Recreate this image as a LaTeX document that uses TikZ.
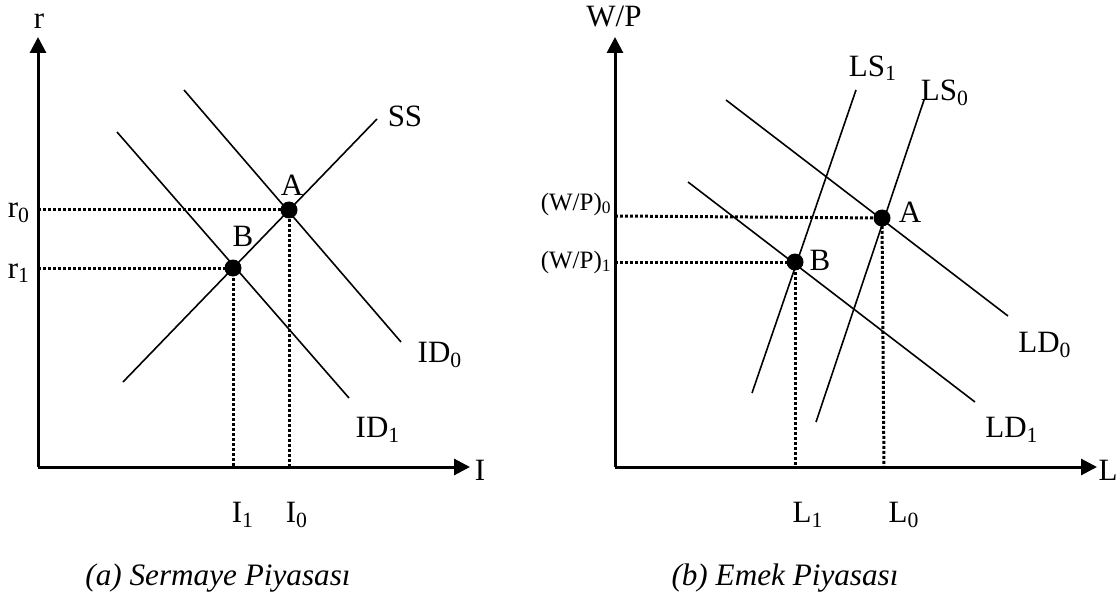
\documentclass[tikz,border=0pt]{standalone}
\usepackage{fontspec}
\setmainfont{Liberation Serif}
\usetikzlibrary{arrows.meta}
\tikzset{
    axisline/.style={line width=1.5pt, -{Triangle[length=8pt,width=8pt]}},
    curveline/.style={line width=0.8pt},
    guideline/.style={line width=1.5pt, dash pattern=on 1.4pt off 1.1pt},
    eqdot/.style={circle, fill=black, inner sep=0pt, minimum size=8.5pt},
    lbl/.style={inner sep=0pt, font=\fontsize{15.5}{18}\selectfont},
    smalllbl/.style={inner sep=0pt, font=\fontsize{12.5}{15}\selectfont},
    captionlbl/.style={inner sep=0pt, font=\fontsize{15.6}{19}\selectfont\itshape}
}
\begin{document}
\begin{tikzpicture}[x=0.5pt, y=-0.5pt]
    \useasboundingbox (0,0) rectangle (1120,599);
    % (a) sermaye piyasasi
    \coordinate (Oa) at (38,467);
    \draw[axisline] (Oa) -- (38,37);
    \draw[axisline] (Oa) -- (470,467);
    \draw[curveline] (123,382) -- (377,119);
    \draw[curveline] (184,90) -- (401,342);
    \draw[curveline] (117,132) -- (349,398);
    \node[eqdot] (Aa) at (289,210) {};
    \node[eqdot] (Ba) at (233,268) {};
    \draw[guideline] (38,210) -- (Aa.center) -- (289,467);
    \draw[guideline] (38,268) -- (Ba.center) -- (233,467);
    \node[lbl] (ra) at (39,21) {r};
    \node[lbl] (Ia) at (480,470) {I};
    \node[lbl] (SS) at (405,116) {SS};
    \node[lbl] (Alab) at (292,185) {A};
    \node[lbl] (Blab) at (243,236) {B};
    \node[lbl] (r0) at (19,213) {r\textsubscript{0}};
    \node[lbl] (r1) at (19,273) {r\textsubscript{1}};
    \node[lbl] (ID0) at (440,355) {ID\textsubscript{0}};
    \node[lbl] (ID1) at (378,430) {ID\textsubscript{1}};
    \node[lbl] (I1) at (243,515) {I\textsubscript{1}};
    \node[lbl] (I0) at (297,515) {I\textsubscript{0}};
    \node[captionlbl] (capa) at (218,578) {(a) Sermaye Piyasası};
    % (b) emek piyasasi
    \coordinate (Ob) at (615,467);
    \draw[axisline] (Ob) -- (615,37);
    \draw[axisline] (Ob) -- (1097,467);
    \draw[curveline] (856,90) -- (752,393);
    \draw[curveline] (924,100) -- (816,422);
    \draw[curveline] (726,100) -- (1008,316);
    \draw[curveline] (688,182) -- (975,402);
    \node[eqdot] (Ab) at (882,218) {};
    \node[eqdot] (Bb) at (795,262) {};
    \draw[guideline] (615,216) -- (Ab.center) -- (884,467);
    \draw[guideline] (615,262) -- (Bb.center) -- (795,467);
    \node[lbl] (wp) at (614,17) {W/P};
    \node[lbl] (Lb) at (1108,470) {L};
    \node[lbl] (LS1) at (873,68) {LS\textsubscript{1}};
    \node[lbl] (LS0) at (945,93) {LS\textsubscript{0}};
    \node[lbl] (Alb) at (910,212) {A};
    \node[lbl] (Blb) at (820,260) {B};
    \node[smalllbl, anchor=east] (wp0) at (612,204) {(W/P)\textsubscript{0}};
    \node[smalllbl, anchor=east] (wp1) at (612,262) {(W/P)\textsubscript{1}};
    \node[lbl] (LD0) at (1045,345) {LD\textsubscript{0}};
    \node[lbl] (LD1) at (1012,430) {LD\textsubscript{1}};
    \node[lbl] (L1) at (808,515) {L\textsubscript{1}};
    \node[lbl] (L0) at (904,515) {L\textsubscript{0}};
    \node[captionlbl] (capb) at (785,578) {(b) Emek Piyasası};
\end{tikzpicture}
\end{document}
